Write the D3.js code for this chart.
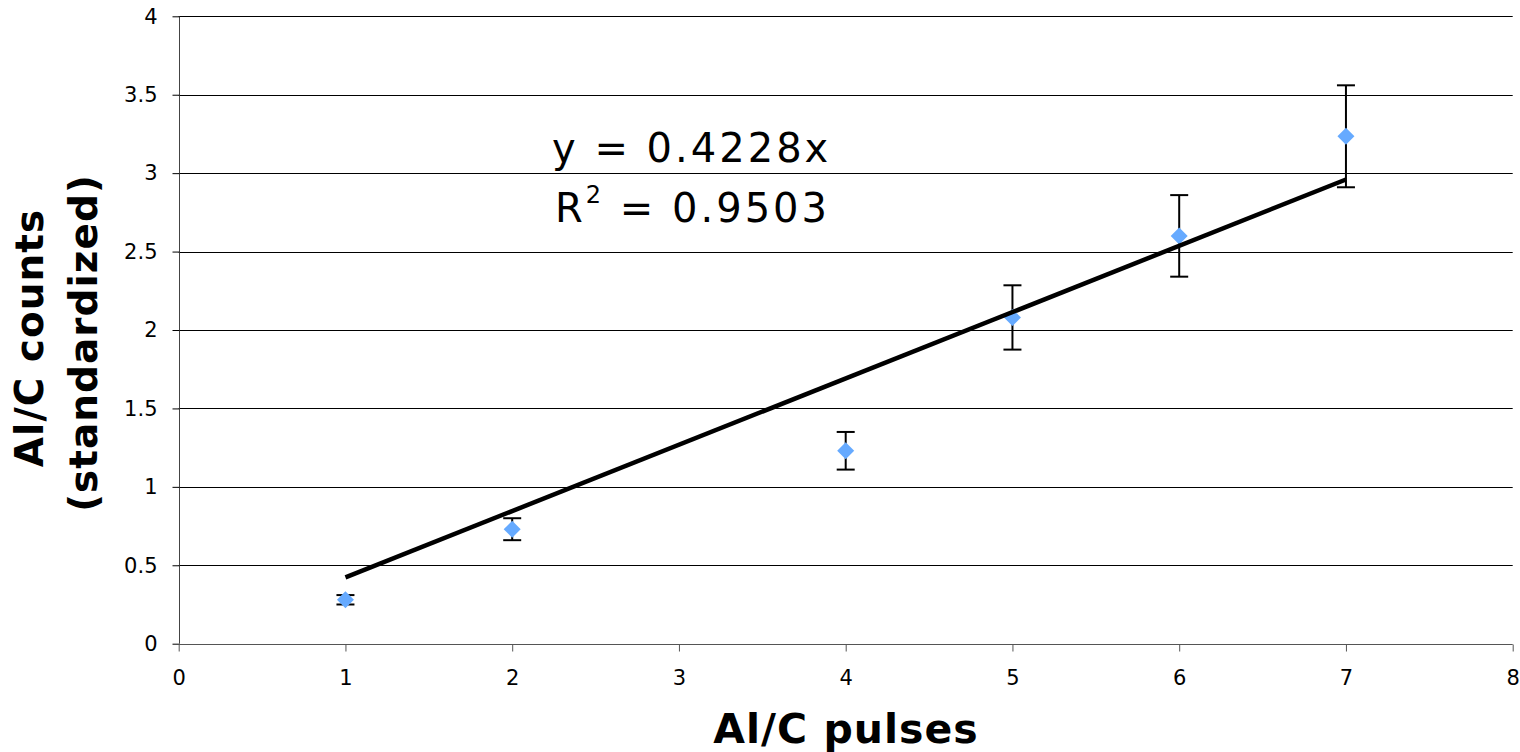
<!DOCTYPE html>
<html>
<head>
<meta charset="utf-8">
<script src="https://cdn.jsdelivr.net/npm/d3@7"></script>
<style>
  html, body { margin: 0; padding: 0; background: #fff; }
  svg { display: block; }
  text { font-family: "DejaVu Sans", Verdana, sans-serif; fill: #000; }
</style>
</head>
<body>
<svg id="chart" width="1520" height="752"></svg>
<script>
// ---- data ----
const pulses = [1, 2, 4, 5, 6, 7];
const counts = [0.28, 0.73, 1.23, 2.08, 2.60, 3.235];
const errors = [0.03, 0.07, 0.12, 0.205, 0.26, 0.325];
const slope = 0.4228;
const trendRange = [1, 7];
const xTicks = [0, 1, 2, 3, 4, 5, 6, 7, 8];
const yTicks = [0, 0.5, 1, 1.5, 2, 2.5, 3, 3.5, 4];
const equationText = "y = 0.4228x";
const r2Value = "0.9503";
const xTitle = "Al/C pulses";
const yTitleLines = ["Al/C counts", "(standardized)"];

const svg = d3.select("#chart");
const x = d3.scaleLinear().domain([0, 8]).range([178.7, 1512.7]);
const y = d3.scaleLinear().domain([0, 4]).range([643.7, 16.3]);

// gridlines
svg.append("g").selectAll("line").data(yTicks.filter(d => d > 0)).join("line")
  .attr("x1", x(0)).attr("x2", x(8))
  .attr("y1", d => Math.round(y(d)) + 0.5).attr("y2", d => Math.round(y(d)) + 0.5)
  .attr("stroke", "#000").attr("stroke-width", 1);

// y axis
const yAxis = svg.append("g")
  .attr("transform", `translate(${Math.round(x(0)) + 0.5},0)`)
  .call(d3.axisLeft(y).tickValues(yTicks).tickSize(7).tickPadding(15)
    .tickFormat(d => String(d)));
yAxis.attr("font-size", 21).attr("font-family", "DejaVu Sans");
yAxis.select(".domain").attr("stroke", "#444").attr("d", `M0,${y(4)}V${y(0)}`);
yAxis.selectAll(".tick line").attr("stroke", "#000");
yAxis.selectAll(".tick text").attr("font-size", 21).attr("fill", "#000");

// x axis
const xAxis = svg.append("g")
  .attr("transform", `translate(0,${Math.round(y(0)) + 0.5})`)
  .call(d3.axisBottom(x).tickValues(xTicks).tickSize(7).tickPadding(19)
    .tickFormat(d => String(d)));
xAxis.attr("font-size", 21).attr("font-family", "DejaVu Sans");
xAxis.select(".domain").attr("stroke", "#555").attr("d", `M${x(0)},0H${x(8)}`);
xAxis.selectAll(".tick line").attr("stroke", "#555");
xAxis.selectAll(".tick text").attr("font-size", 21).attr("fill", "#000");

// error bars
const eb = svg.append("g").attr("stroke", "#000").attr("stroke-width", 2);
pulses.forEach((p, i) => {
  const cx = x(p), top = y(counts[i] + errors[i]), bot = y(counts[i] - errors[i]);
  eb.append("line").attr("x1", cx).attr("x2", cx).attr("y1", top).attr("y2", bot);
  eb.append("line").attr("x1", cx - 9).attr("x2", cx + 9).attr("y1", top).attr("y2", top);
  eb.append("line").attr("x1", cx - 9).attr("x2", cx + 9).attr("y1", bot).attr("y2", bot);
});

// markers (diamonds)
svg.append("g").selectAll("path").data(pulses).join("path")
  .attr("transform", (d, i) => `translate(${x(d)},${y(counts[i])})`)
  .attr("d", "M0,-8.5L8.5,0L0,8.5L-8.5,0Z")
  .attr("fill", "#66aaff");

// trendline
svg.append("line")
  .attr("x1", x(trendRange[0])).attr("y1", y(slope * trendRange[0]))
  .attr("x2", x(trendRange[1])).attr("y2", y(slope * trendRange[1]))
  .attr("stroke", "#000").attr("stroke-width", 4.5);

// equation
svg.append("text").attr("x", 552).attr("y", 162)
  .attr("font-size", 40).attr("letter-spacing", 3).text(equationText);
const r2 = svg.append("text").attr("x", 555).attr("y", 222)
  .attr("font-size", 40).attr("letter-spacing", 3);
r2.append("tspan").text("R");
r2.append("tspan").attr("font-size", 24).attr("dy", -19).text("2");
r2.append("tspan").attr("dy", 19).text(" = " + r2Value);

// x title
svg.append("text").attr("x", 846).attr("y", 743)
  .attr("text-anchor", "middle").attr("font-size", 41).attr("font-weight", "bold")
  .attr("letter-spacing", 1).text(xTitle);

// y title
svg.append("text").attr("transform", "translate(43,338) rotate(-90)")
  .attr("text-anchor", "middle").attr("font-size", 39).attr("font-weight", "bold")
  .attr("letter-spacing", 1).text(yTitleLines[0]);
svg.append("text").attr("transform", "translate(97,343) rotate(-90)")
  .attr("text-anchor", "middle").attr("font-size", 39).attr("font-weight", "bold")
  .attr("letter-spacing", 1).text(yTitleLines[1]);
</script>
</body>
</html>
